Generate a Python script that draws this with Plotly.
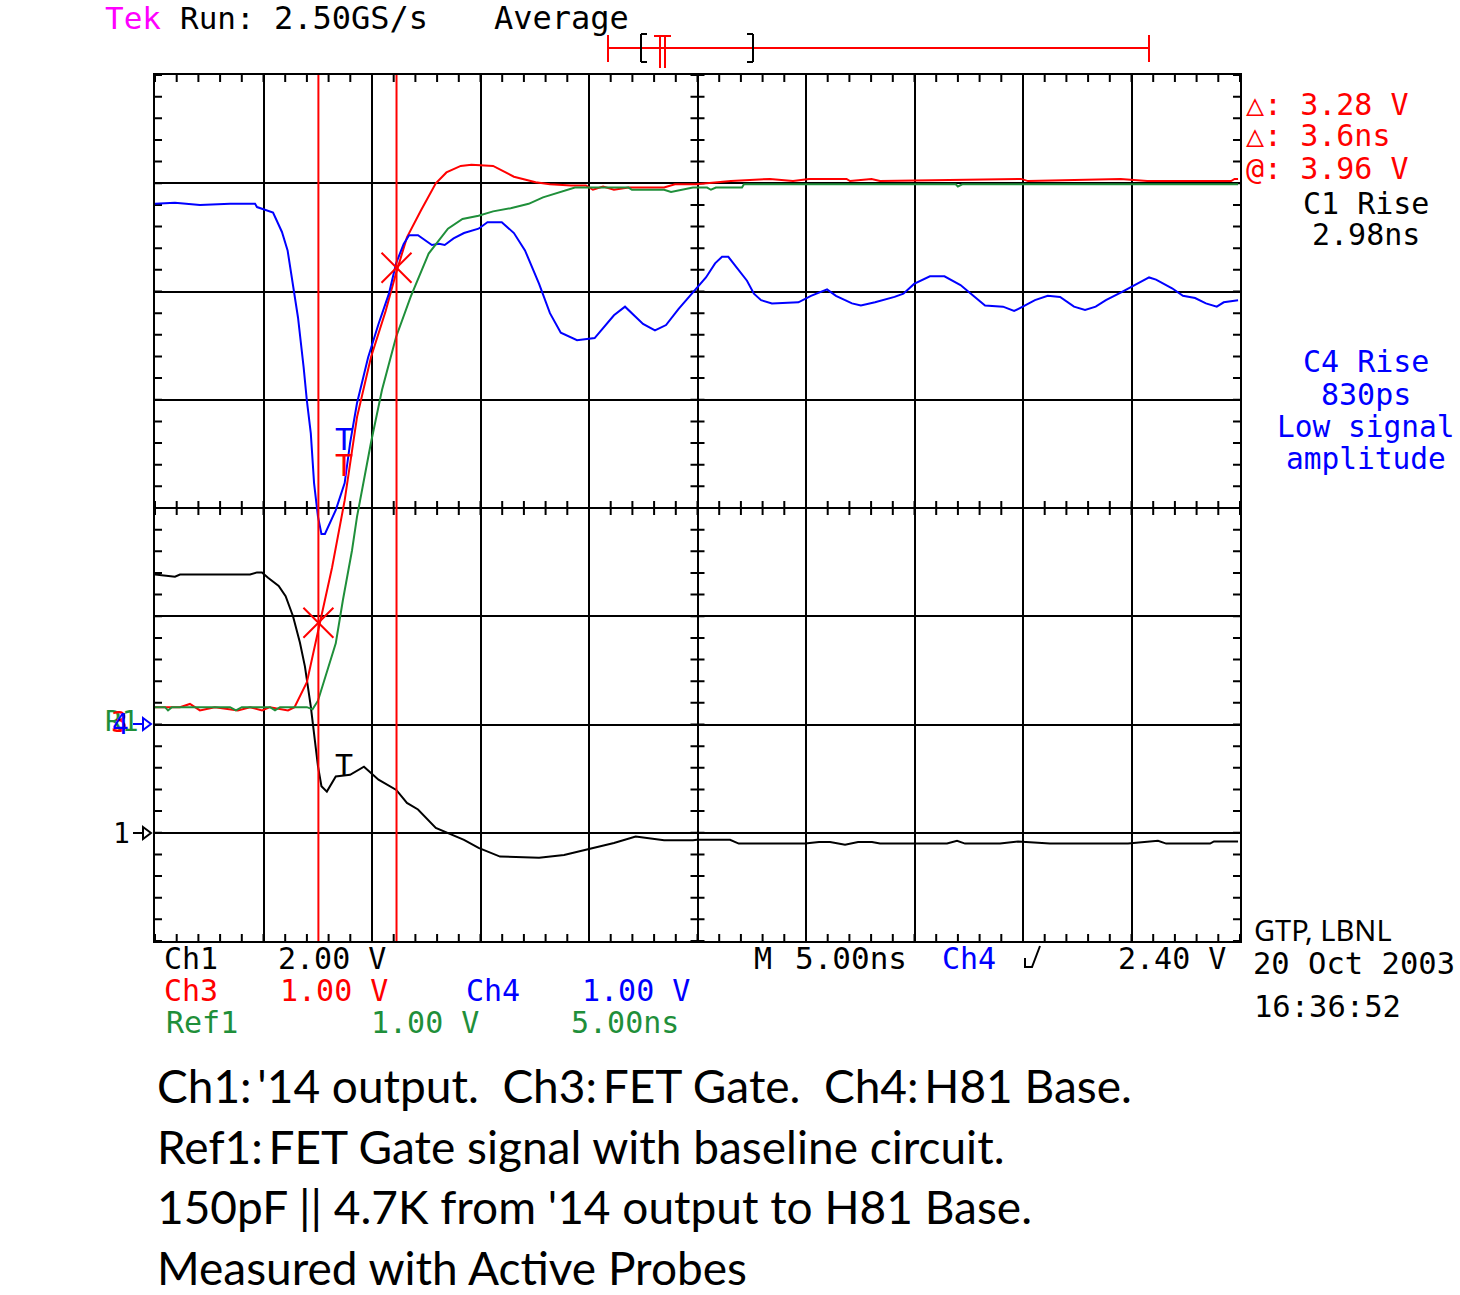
import plotly.graph_objects as go

# ---------------- data (time in ns, values in volts) ----------------
ch1_t = [0.00, 0.46, 0.92, 1.15, 4.38, 4.70, 4.93, 5.21, 5.70, 6.02, 6.36, 6.68, 6.91, 7.18, 7.33,
         7.51, 7.67, 7.92, 8.33, 8.57, 8.99, 9.63, 10.30, 11.12, 11.61, 12.12, 12.94, 14.24, 14.91,
         15.90, 17.70, 18.85, 19.85, 21.15, 22.15, 23.46, 24.79, 24.98, 26.50, 26.90, 29.95, 30.60,
         31.11, 31.80, 32.40, 33.04, 33.41, 36.50, 36.96, 37.33, 38.94, 39.77, 41.24, 43.09, 44.84,
         46.22, 46.60, 48.62, 48.80, 49.91]
ch1_v = [4.77, 4.75, 4.73, 4.77, 4.77, 4.81, 4.81, 4.71, 4.56, 4.37, 4.00, 3.51, 3.07, 2.33, 1.85,
         1.23, 0.86, 0.76, 1.04, 1.05, 1.07, 1.22, 0.98, 0.79, 0.55, 0.43, 0.09, -0.13, -0.28,
         -0.44, -0.46, -0.41, -0.31, -0.19, -0.07, -0.14, -0.14, -0.13, -0.13, -0.20, -0.20, -0.17,
         -0.17, -0.22, -0.17, -0.17, -0.20, -0.20, -0.15, -0.20, -0.20, -0.16, -0.20, -0.20, -0.20,
         -0.15, -0.20, -0.20, -0.16, -0.16]

ch3_t = [0.00, 1.15, 1.61, 2.07, 2.76, 3.82, 4.38, 4.93, 5.30, 6.13, 6.43, 7.00, 7.59, 8.16, 8.74,
         9.31, 9.95, 10.63, 11.11, 11.61, 12.26, 12.94, 13.43, 14.09, 14.58, 15.58, 16.54, 17.54,
         18.20, 19.17, 19.86, 20.18, 20.65, 21.15, 21.82, 23.46, 23.96, 24.93, 26.54, 28.34, 29.40,
         30.14, 31.87, 32.03, 33.02, 33.41, 39.91, 40.23, 44.50, 45.72, 49.59, 49.75, 49.91]
ch3_v = [0.16, 0.16, 0.19, 0.13, 0.16, 0.13, 0.16, 0.13, 0.16, 0.13, 0.16, 0.39, 0.93, 1.45, 2.07,
         2.84, 3.39, 3.82, 4.17, 4.50, 4.75, 5.00, 5.10, 5.16, 5.17, 5.16, 5.06, 5.01,
         4.99, 4.98, 4.98, 4.94, 4.97, 4.94, 4.96, 4.96, 4.99, 4.99, 5.02, 5.04, 5.02,
         5.04, 5.04, 5.02, 5.04, 5.02, 5.04, 5.02, 5.04, 5.02, 5.02, 5.04, 5.04]

ch4_t = [0.00, 0.92, 2.07, 3.46, 4.61, 4.70, 5.44, 5.85, 6.11, 6.36, 6.59, 6.85, 7.00, 7.18, 7.33,
         7.51, 7.67, 7.83, 8.33, 8.74, 8.99, 9.31, 9.82, 10.30, 10.78, 11.11, 11.46, 11.71, 12.12,
         12.76, 13.09, 13.35, 13.76, 14.24, 14.91, 15.32, 15.98, 16.54, 17.05, 17.70, 18.20, 18.70,
         19.45, 20.26, 21.15, 21.66, 22.49, 23.04, 23.55, 24.13, 24.98, 25.39, 25.81, 26.13, 26.42,
         26.87, 27.28, 27.60, 27.93, 28.43, 29.65, 30.23, 30.97, 31.38, 32.12, 32.53, 33.18, 34.08,
         34.49, 34.98, 35.71, 36.38, 37.12, 37.60, 38.25, 39.08, 39.59, 39.99, 40.55, 41.14, 41.71,
         42.35, 42.86, 43.35, 43.82, 44.50, 45.07, 45.81, 46.13, 46.87, 47.37, 47.93, 48.43, 48.93,
         49.25, 49.91]
ch4_v = [4.81, 4.82, 4.80, 4.81, 4.81, 4.78, 4.73, 4.55, 4.38, 4.07, 3.76, 3.30, 2.99, 2.69, 2.23,
         1.92, 1.76, 1.76, 1.98, 2.23, 2.60, 2.97, 3.39, 3.70, 3.98, 4.26, 4.44, 4.52, 4.52,
         4.43, 4.44, 4.43, 4.49, 4.54, 4.58, 4.64, 4.64, 4.54, 4.38, 4.07, 3.80, 3.62,
         3.55, 3.57, 3.78, 3.86, 3.70, 3.64, 3.69, 3.84, 4.04, 4.13, 4.26, 4.32, 4.32,
         4.21, 4.10, 3.98, 3.92, 3.89, 3.90, 3.96, 4.02, 3.96, 3.89, 3.87, 3.90, 3.95,
         3.98, 4.07, 4.14, 4.14, 4.06, 3.98, 3.87, 3.86, 3.82, 3.86, 3.92, 3.96, 3.95,
         3.86, 3.83, 3.86, 3.92, 3.99, 4.05, 4.13, 4.11, 4.03, 3.96, 3.94, 3.89, 3.86,
         3.90, 3.92]

ref1_t = [0.00, 0.46, 0.60, 0.78, 3.46, 3.73, 4.00, 5.30, 5.53, 5.76, 7.00, 7.26, 7.51, 8.00, 8.33,
          8.66, 9.08, 9.31, 9.95, 10.46, 11.11, 11.78, 12.61, 13.50, 14.17, 14.91, 15.58, 16.39,
          17.22, 17.88, 18.70, 19.35, 21.82, 21.98, 23.46, 23.78, 24.79, 25.44, 25.62, 25.85, 27.05,
          27.14, 36.90, 37.00, 37.20, 49.91]
ref1_v = [0.16, 0.16, 0.13, 0.16, 0.16, 0.13, 0.16, 0.16, 0.13, 0.16, 0.16, 0.14, 0.22, 0.53, 0.75,
          1.15, 1.61, 1.92, 2.60, 3.09, 3.58, 3.95, 4.35, 4.58, 4.67, 4.70, 4.74, 4.77,
          4.81, 4.87, 4.92, 4.96, 4.96, 4.94, 4.94, 4.92, 4.96, 4.96, 4.94, 4.96, 4.96,
          4.99, 4.99, 4.97, 4.99, 4.99]

cursor_t = [7.53, 11.13]          # ns
cursor_v = [0.94, 4.22]           # Ch3 volts at cursors

# channel settings: volts/div and ground position (divisions from centre)
ch1_vdiv, ch1_gnd = 2.0, -3
ch3_vdiv, ch3_gnd = 1.0, -2
time_div = 5.0
n_hdiv, n_vdiv = 10, 8

RED, BLUE, GREEN, BLACK, MAG = "#ff0000", "#0000ff", "#1f8f3a", "#000000", "#ff00ff"
MONO = "DejaVu Sans Mono"

W, H = 1460, 1295
PL, PR, PT, PB = 155, 1240, 75, 941


def px2x(px):
    return (px - PL) / (PR - PL)


def py2y(py):
    return (PB - py) / (PB - PT)


fig = go.Figure()
fig.add_trace(go.Scatter(x=ch1_t, y=ch1_v, yaxis="y2", mode="lines",
                         line=dict(color=BLACK, width=2), name="Ch1"))
fig.add_trace(go.Scatter(x=ch3_t, y=ch3_v, yaxis="y3", mode="lines",
                         line=dict(color=RED, width=2), name="Ch3"))
fig.add_trace(go.Scatter(x=ch4_t, y=ch4_v, yaxis="y3", mode="lines",
                         line=dict(color=BLUE, width=2), name="Ch4"))
fig.add_trace(go.Scatter(x=ref1_t, y=ref1_v, yaxis="y3", mode="lines",
                         line=dict(color=GREEN, width=2), name="Ref1"))
fig.add_trace(go.Scatter(x=cursor_t, y=cursor_v, yaxis="y3", mode="markers",
                         marker=dict(symbol="x-thin", size=30, line=dict(color=RED, width=2)),
                         name="cursors"))

t_max = time_div * n_hdiv
half = n_vdiv / 2

# graticule tick marks (one path)
lx = 7 / (PR - PL) * t_max
ly = 7 / (PB - PT) * n_vdiv
parts = []
for i in range(int(t_max) + 1):
    t = float(i)
    parts.append(f"M{t},{-half} L{t},{-half + ly}")
    parts.append(f"M{t},{half} L{t},{half - ly}")
    parts.append(f"M{t},{-ly} L{t},{ly}")
for j in range(int(n_vdiv * 5) + 1):
    d = -half + j * 0.2
    parts.append(f"M0,{d} L{lx},{d}")
    parts.append(f"M{t_max},{d} L{t_max - lx},{d}")
    parts.append(f"M{t_max / 2 - lx},{d} L{t_max / 2 + lx},{d}")
shapes = [dict(type="path", xref="x", yref="y", path=" ".join(parts),
               line=dict(color=BLACK, width=2), layer="below")]

# cursors
for ct in cursor_t:
    shapes.append(dict(type="line", xref="x", yref="paper", x0=ct, x1=ct, y0=0, y1=1,
                       line=dict(color=RED, width=2), layer="above"))


def pline(x0, y0, x1, y1, color, w=2):
    shapes.append(dict(type="line", xref="paper", yref="paper",
                       x0=px2x(x0), y0=py2y(y0), x1=px2x(x1), y1=py2y(y1),
                       line=dict(color=color, width=w)))


# record-length bar at top
pline(608, 48, 1149, 48, RED)
pline(608, 35, 608, 62, RED)
pline(1149, 35, 1149, 62, RED)
pline(641, 34, 641, 62, BLACK)
pline(641, 34, 647, 34, BLACK)
pline(641, 62, 647, 62, BLACK)
pline(753, 34, 753, 62, BLACK)
pline(747, 34, 753, 34, BLACK)
pline(747, 62, 753, 62, BLACK)
pline(660, 35, 660, 68, RED)
pline(665, 35, 665, 68, RED)
pline(654, 36, 671, 36, RED)

# ground markers
pline(133, 724, 143, 724, BLUE)
shapes.append(dict(type="path", xref="paper", yref="paper",
                   path=f"M{px2x(143)},{py2y(718)} L{px2x(151)},{py2y(724)} L{px2x(143)},{py2y(730)} Z",
                   line=dict(color=BLUE, width=2)))
pline(133, 833, 143, 833, BLACK)
shapes.append(dict(type="path", xref="paper", yref="paper",
                   path=f"M{px2x(143)},{py2y(827)} L{px2x(151)},{py2y(833)} L{px2x(143)},{py2y(839)} Z",
                   line=dict(color=BLACK, width=2)))
# trigger slope symbol
shapes.append(dict(type="path", xref="paper", yref="paper",
                   path=f"M{px2x(1025)},{py2y(958)} L{px2x(1025)},{py2y(967)} L{px2x(1032)},{py2y(967)} L{px2x(1040)},{py2y(946)}",
                   line=dict(color=BLACK, width=2)))

ann = []


def text(px, py, s, color=BLACK, size=30, family=MONO, anchor="left"):
    ann.append(dict(xref="paper", yref="paper", x=px2x(px), y=py2y(py), text=s,
                    showarrow=False, xanchor=anchor, yanchor="middle",
                    font=dict(family=family, size=size, color=color)))


# header
text(103, 18, "Tek", MAG, 31)
text(178, 18, "Run:", BLACK, 31)
text(272, 18, "2.50GS/s", BLACK, 32)
text(492, 18, "Average", BLACK, 32)

# right-side readouts
text(1244, 104, "△: 3.28 V", RED)
text(1244, 136, "△: 3.6ns", RED)
text(1244, 168, "@: 3.96 V", RED)
text(1366, 203, "C1 Rise", BLACK, anchor="center")
text(1366, 235, "2.98ns", BLACK, anchor="center")
text(1366, 361, "C4 Rise", BLUE, anchor="center")
text(1366, 394, "830ps", BLUE, anchor="center")
text(1366, 427, "Low signal", BLUE, 29.5, anchor="center")
text(1366, 459, "amplitude", BLUE, 29.5, anchor="center")

# bottom status
text(162, 958, "Ch1")
text(276, 958, "2.00 V")
text(162, 990, "Ch3", RED)
text(278, 990, "1.00 V", RED)
text(464, 990, "Ch4", BLUE)
text(580, 990, "1.00 V", BLUE)
text(164, 1022, "Ref1", GREEN)
text(369, 1022, "1.00 V", GREEN)
text(569, 1022, "5.00ns", GREEN)
text(752, 958, "M", BLACK)
text(793, 958, "5.00ns", BLACK, 31)
text(940, 958, "Ch4", BLUE)
text(1116, 958, "2.40 V")

text(1252, 929, "GTP, LBNL", BLACK, 29, "Noto Sans")
text(1251, 964, "20 Oct 2003", BLACK, 30.5, MONO)
text(1252, 1007, "16:36:52", BLACK, 30.5, MONO)

# ground marker labels
text(103, 721, "R1", GREEN, 28)
text(109, 722, "3", RED, 28)
text(110, 724, "4", BLUE, 28)
text(111, 833, "1", BLACK, 28)

# trigger "T" markers (data coordinates)
trig_t = 8.73
ann.append(dict(xref="x", yref="y3", x=trig_t, y=2.63, text="T", showarrow=False,
                font=dict(family=MONO, size=30, color=BLUE)))
ann.append(dict(xref="x", yref="y3", x=trig_t, y=2.39, text="T", showarrow=False,
                font=dict(family=MONO, size=30, color=RED)))
ann.append(dict(xref="x", yref="y2", x=trig_t, y=1.25, text="T", showarrow=False,
                font=dict(family=MONO, size=30, color=BLACK)))

# caption
CAP = "Lato"
text(155, 1085, "Ch1:&#8201;'14 output.&nbsp; Ch3:&#8201;FET Gate.&nbsp; Ch4:&#8201;H81 Base.", BLACK, 46, CAP)
text(155, 1146, "Ref1:&#8201;FET Gate signal with baseline circuit.", BLACK, 46, CAP)
text(155, 1206, "150pF || 4.7K from '14 output to H81 Base.", BLACK, 46, CAP)
text(155, 1267, "Measured with Active Probes", BLACK, 46, CAP)

axis_common = dict(showgrid=True, gridcolor=BLACK, gridwidth=2, showline=True, linecolor=BLACK,
                   linewidth=2, mirror=True, zeroline=False, showticklabels=False, ticks="")

fig.update_layout(
    width=W, height=H,
    margin=dict(l=PL, r=W - PR, t=PT, b=H - PB, pad=0),
    paper_bgcolor="white", plot_bgcolor="white",
    showlegend=False,
    xaxis=dict(range=[0, t_max], dtick=time_div, **axis_common),
    yaxis=dict(range=[-half, half], dtick=1, **axis_common),
    yaxis2=dict(overlaying="y", visible=False,
                range=[(-half - ch1_gnd) * ch1_vdiv, (half - ch1_gnd) * ch1_vdiv]),
    yaxis3=dict(overlaying="y", visible=False,
                range=[(-half - ch3_gnd) * ch3_vdiv, (half - ch3_gnd) * ch3_vdiv]),
    shapes=shapes,
    annotations=ann,
)

fig.write_html("out.html", config={"displayModeBar": False},
               post_script="document.body.style.margin='0px';document.body.style.overflow='hidden';")
